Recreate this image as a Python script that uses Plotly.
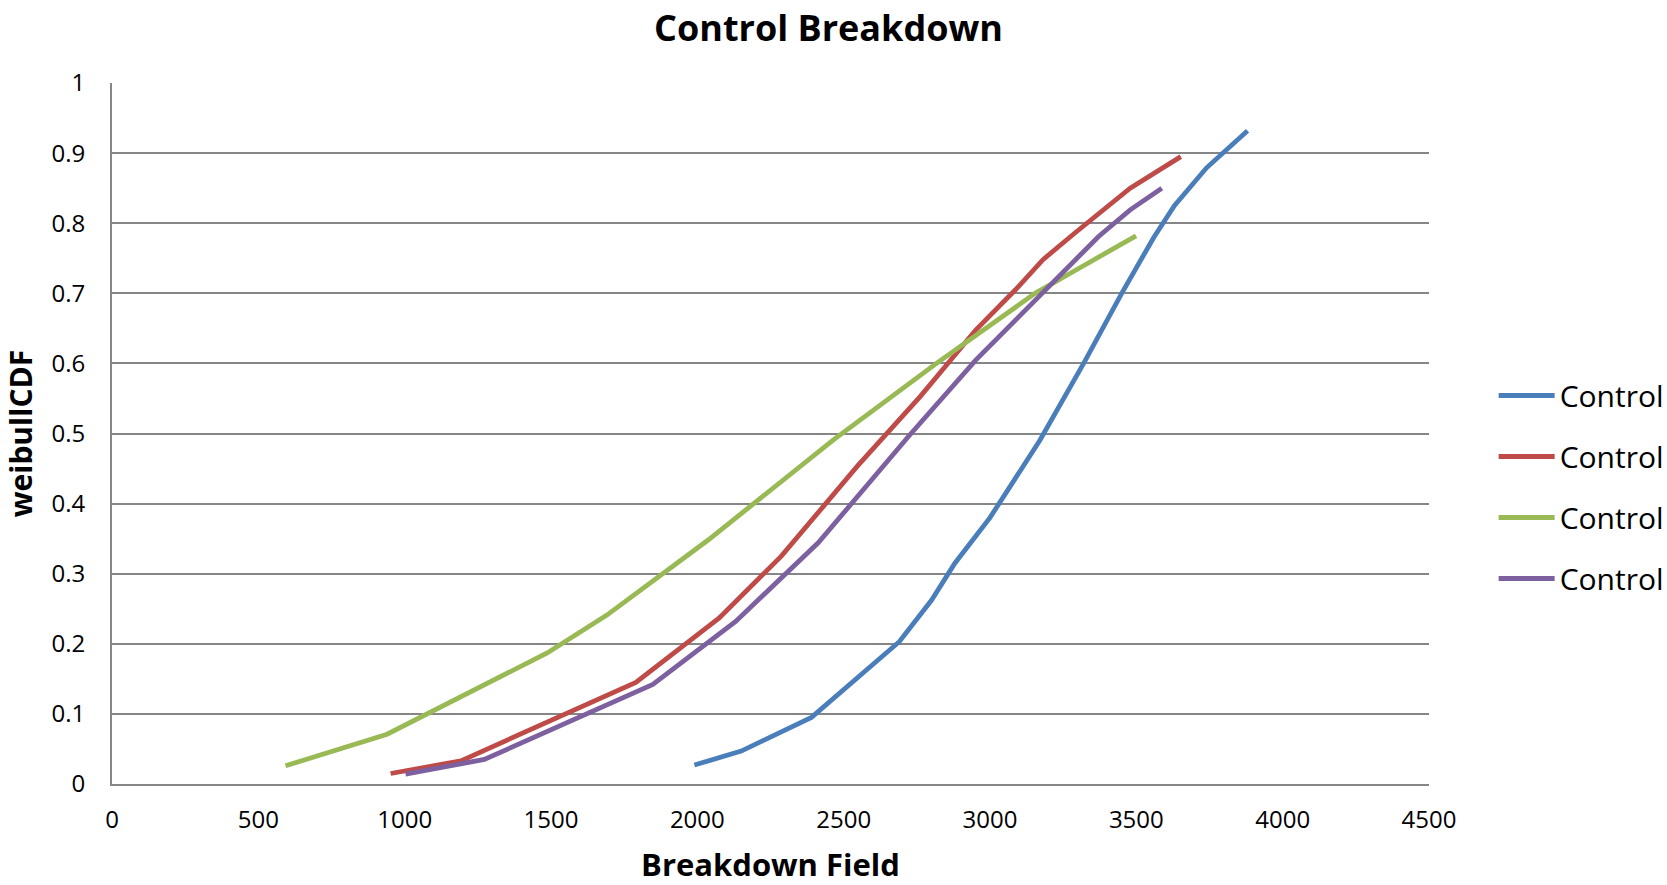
import plotly.graph_objects as go

blue_x = [1990, 2150, 2390, 2690, 2800, 2880, 3000, 3170, 3320, 3450, 3560, 3630, 3740, 3880]
blue_y = [0.027, 0.047, 0.095, 0.203, 0.262, 0.315, 0.38, 0.49, 0.60, 0.70, 0.78, 0.825, 0.879, 0.932]

red_x = [952, 1192, 1790, 2075, 2287, 2546, 2762, 2952, 3087, 3181, 3290, 3479, 3652]
red_y = [0.015, 0.033, 0.145, 0.237, 0.325, 0.453, 0.553, 0.648, 0.705, 0.748, 0.786, 0.850, 0.895]

green_x = [593, 940, 1487, 1691, 2037, 2236, 2465, 2817, 3154, 3276, 3499]
green_y = [0.026, 0.071, 0.187, 0.241, 0.348, 0.415, 0.491, 0.600, 0.700, 0.729, 0.782]

purple_x = [1003, 1272, 1848, 2131, 2413, 2722, 2952, 3181, 3371, 3479, 3587]
purple_y = [0.014, 0.035, 0.142, 0.232, 0.344, 0.496, 0.605, 0.702, 0.781, 0.819, 0.850]

series = [
    ("Control", blue_x, blue_y, "#4A7EBB"),
    ("Control", red_x, red_y, "#BE4B48"),
    ("Control", green_x, green_y, "#98B954"),
    ("Control", purple_x, purple_y, "#7D60A0"),
]

x_ticks = [0, 500, 1000, 1500, 2000, 2500, 3000, 3500, 4000, 4500]
y_ticks = [0, 0.1, 0.2, 0.3, 0.4, 0.5, 0.6, 0.7, 0.8, 0.9, 1]

FONT = "Open Sans"

fig = go.Figure()
for i, (name, xs, ys, col) in enumerate(series):
    fig.add_trace(go.Scatter(
        x=xs, y=ys, mode="lines", name=name, legendgroup=f"g{i}",
        line=dict(color=col, width=4.8),
    ))

fig.update_layout(
    width=1667, height=885,
    paper_bgcolor="white", plot_bgcolor="white",
    margin=dict(l=112, r=238, t=83, b=101),
    font=dict(family=FONT, color="black"),
    title=dict(text="<b>Control Breakdown</b>", x=0.497, xanchor="center",
               yref="container", y=0.968, yanchor="middle",
               font=dict(size=36, family=FONT)),
    showlegend=True,
    legend=dict(xref="container", yref="container",
                x=0.896, xanchor="left", y=0.4497, yanchor="middle",
                font=dict(size=30, family=FONT), itemwidth=56,
                tracegroupgap=19, bgcolor="rgba(0,0,0,0)"),
    xaxis=dict(range=[0, 4500], tickvals=x_ticks, showgrid=False,
               showline=True, linecolor="#868686", linewidth=2,
               ticks="", tickfont=dict(size=24), ticklabelstandoff=13,
               automargin=False,
               title=dict(text="<b>Breakdown Field</b>", font=dict(size=31), standoff=25),
               zeroline=False),
    yaxis=dict(range=[0, 1], tickvals=y_ticks, showgrid=True,
               gridcolor="#868686", gridwidth=2,
               showline=True, linecolor="#868686", linewidth=2,
               ticks="", tickfont=dict(size=24), ticklabelstandoff=20,
               automargin=False,
               title=dict(text="<b>weibullCDF</b>", font=dict(size=30), standoff=16),
               zeroline=False),
)

fig.write_html("out.html", post_script="document.body.style.margin='0';",
               config={"displayModeBar": False})
